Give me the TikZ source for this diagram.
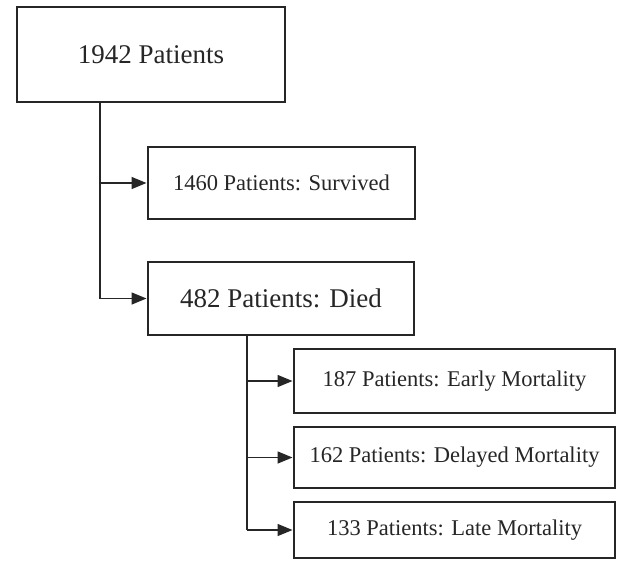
\documentclass[tikz,border=0pt]{standalone}
\usepackage{fontspec}
\setmainfont{Liberation Serif}
\usetikzlibrary{arrows.meta}
\begin{document}
\begin{tikzpicture}[x=1pt,y=-1pt,
  box/.style={draw=black!85, line width=2pt, fill=white, inner sep=0pt, text=black!85, align=center},
  bigbox/.style={box, font=\fontsize{27}{30}\selectfont},
  smallbox/.style={box, font=\fontsize{22.5}{26}\selectfont},
  link/.style={draw=black!85, line width=1.5pt},
  arr/.style={link, -{Triangle[length=15pt,width=12pt]}, shorten >=0.5pt}
]
\useasboundingbox (0,0) rectangle (617,560);
\fill[white] (0,0) rectangle (617,560);

\node[bigbox, minimum width=268pt, minimum height=95pt] (b1) at (151,54.5) {1942 Patients};
\node[smallbox, minimum width=267pt, minimum height=72pt] (b2) at (281.5,183) {1460 Patients: Survived};
\node[bigbox, minimum width=266pt, minimum height=73pt] (b3) at (281,298.5) {482 Patients: Died};
\node[smallbox, minimum width=321pt, minimum height=64pt] (b4) at (454.5,381) {187 Patients: Early Mortality};
\node[smallbox, minimum width=321pt, minimum height=61pt] (b5) at (454.5,457.5) {162 Patients: Delayed Mortality};
\node[smallbox, minimum width=321pt, minimum height=56pt] (b6) at (454.5,530) {133 Patients: Late Mortality};

\coordinate (x1) at (100,102);
\coordinate (x2) at (247,335);

\draw[link] (b1.south -| x1) -- (x1 |- b3.west);
\draw[arr] (x1 |- b2.west) -- (b2.west);
\draw[arr] (x1 |- b3.west) -- (b3.west);

\draw[link] (b3.south -| x2) -- (x2 |- b6.west);
\draw[arr] (x2 |- b4.west) -- (b4.west);
\draw[arr] (x2 |- b5.west) -- (b5.west);
\draw[arr] (x2 |- b6.west) -- (b6.west);
\end{tikzpicture}
\end{document}
